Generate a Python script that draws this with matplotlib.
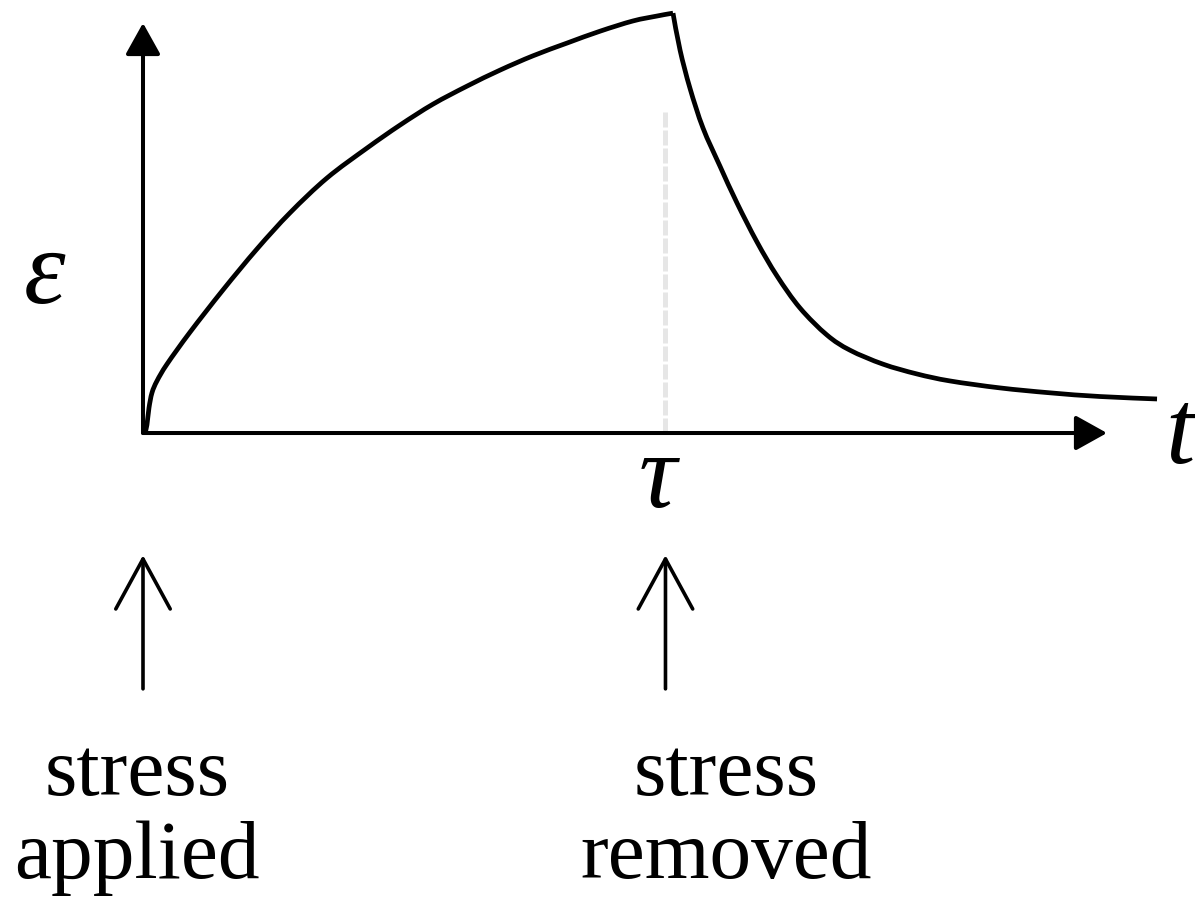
import matplotlib
matplotlib.use("Agg")
import matplotlib.pyplot as plt
from matplotlib.patches import FancyArrowPatch, PathPatch
from matplotlib.path import Path

# Creep and recovery: strain vs time, stress applied at t=0 and removed at tau
tau = 5.42
t_end = 10.0          # length of the time axis
eps_top = 1.0         # length of the strain axis

rise_t = [0.021, 0.041, 0.062, 0.093, 0.145, 0.249, 0.488, 0.830, 1.183,
          1.525, 1.909, 2.324, 2.666, 3.008, 3.361, 3.703, 4.046, 4.398,
          4.741, 5.083, 5.332, 5.446, 5.498]
rise_e = [0.0, 0.020, 0.061, 0.098, 0.127, 0.168, 0.246, 0.349, 0.449,
          0.537, 0.622, 0.695, 0.751, 0.802, 0.846, 0.885, 0.920, 0.951,
          0.980, 1.005, 1.017, 1.022, 1.024]

fall_t = [5.498, 5.571, 5.674, 5.809, 5.985, 6.162, 6.369, 6.577, 6.815,
          7.095, 7.334, 7.676, 8.029, 8.371, 8.890, 9.409, 9.927, 10.519]
fall_e = [1.024, 0.934, 0.841, 0.744, 0.651, 0.561, 0.466, 0.383, 0.305,
          0.239, 0.202, 0.168, 0.144, 0.127, 0.110, 0.098, 0.089, 0.083]

labels_applied = ["stress", "applied"]
labels_removed = ["stress", "removed"]


def smooth_path(xs, ys):
    """Cubic Bezier path through the given points (Catmull-Rom tangents)."""
    pts = list(zip(xs, ys))
    n = len(pts)
    verts = [pts[0]]
    codes = [Path.MOVETO]
    for i in range(n - 1):
        p0 = pts[max(i - 1, 0)]
        p1 = pts[i]
        p2 = pts[i + 1]
        p3 = pts[min(i + 2, n - 1)]
        c1 = (p1[0] + (p2[0] - p0[0]) / 6, p1[1] + (p2[1] - p0[1]) / 6)
        c2 = (p2[0] - (p3[0] - p1[0]) / 6, p2[1] - (p3[1] - p1[1]) / 6)
        verts += [c1, c2, p2]
        codes += [Path.CURVE4] * 3
    return Path(verts, codes)


fig = plt.figure(figsize=(11.95, 9.08), dpi=100)
ax = fig.add_axes([0, 0, 1, 1])
ax.set_xlim(-1.4834, 10.913)
ax.set_ylim(-1.1585, 1.0561)
ax.axis("off")

serif = "Liberation Serif"

# faint guide at tau
ax.plot([tau, tau], [0, 0.788], color="#e6e6e6", lw=3.6,
        linestyle=(0, (3, 0.6)), zorder=1)

# axes with filled arrowheads
for end in [(0, eps_top), (t_end, 0)]:
    ax.add_patch(FancyArrowPatch((0, 0), end,
                                 arrowstyle="-|>,head_length=0.97,head_width=0.54",
                                 mutation_scale=20, lw=2.9, color="black",
                                 shrinkA=0, shrinkB=0, zorder=3))

# strain curve: creep while loaded, recovery after unloading
for xs, ys in [(rise_t, rise_e), (fall_t, fall_e)]:
    ax.add_patch(PathPatch(smooth_path(xs, ys), facecolor="none",
                           edgecolor="black", lw=3.4, capstyle="butt",
                           joinstyle="round", zorder=4))

# axis symbols
ax.text(-1.02, 0.318, "ε", family=serif, style="italic", fontsize=76,
        ha="center", va="baseline")
ax.text(10.76, -0.073, "t", family=serif, style="italic", fontsize=76,
        ha="center", va="baseline")
ax.text(tau - 0.08, -0.18, "τ", family=serif, style="italic", fontsize=76,
        ha="center", va="baseline")

# stress event arrows
for x in [0.0, tau]:
    ax.add_patch(FancyArrowPatch((x, -0.624), (x, -0.298),
                                 arrowstyle="->,head_length=0.9,head_width=0.49",
                                 mutation_scale=40, lw=2.6, color="black",
                                 shrinkA=0, shrinkB=0))

for x, lines in [(-0.062, labels_applied), (6.048, labels_removed)]:
    for y, s in zip([-0.883, -1.085], lines):
        ax.text(x, y, s, family=serif, fontsize=60, ha="center", va="baseline")

fig.savefig("out.png", dpi=100)
